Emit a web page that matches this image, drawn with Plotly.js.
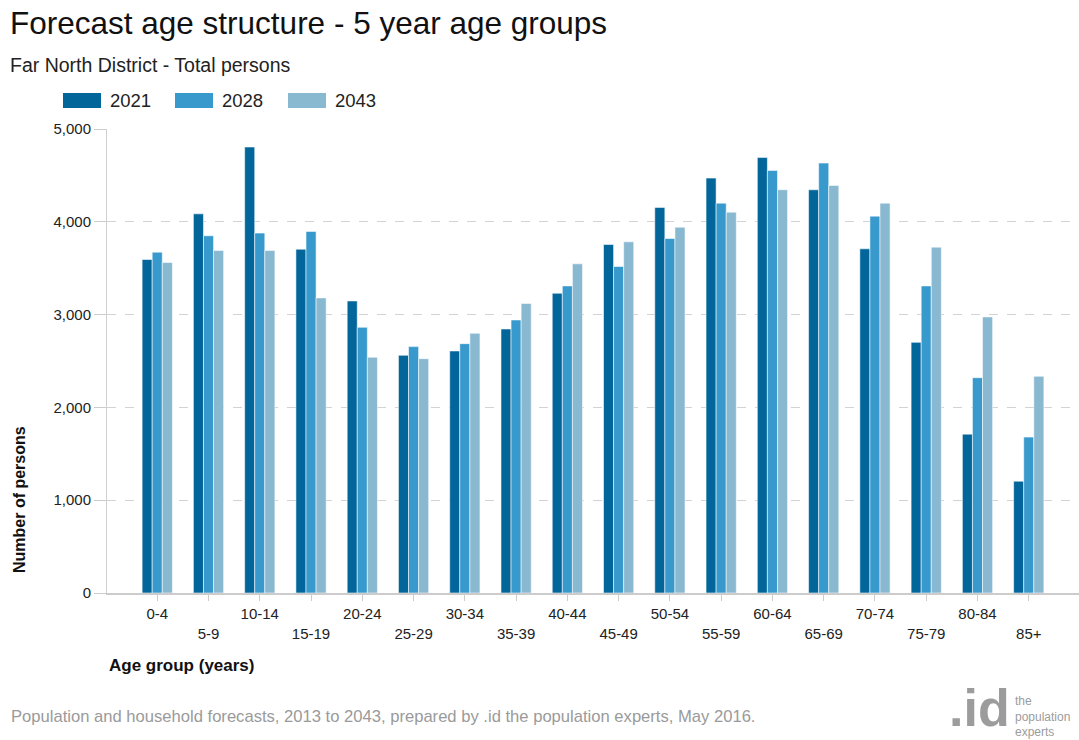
<!DOCTYPE html>
<html>
<head>
<meta charset="utf-8">
<script src="https://cdn.plot.ly/plotly-3.0.1.min.js"></script>
<style>
  html, body { margin: 0; padding: 0; background: #fff; }
  #chart { width: 1079px; height: 740px; }
</style>
</head>
<body>
<div id="chart"></div>
<script>
// ---- Data ----
var categories = ["0-4","5-9","10-14","15-19","20-24","25-29","30-34","35-39","40-44","45-49","50-54","55-59","60-64","65-69","70-74","75-79","80-84","85+"];
var seriesNames = ["2021", "2028", "2043"];
var values2021 = [3594, 4086, 4806, 3705, 3147, 2561, 2608, 2845, 3230, 3755, 4155, 4471, 4694, 4345, 3709, 2701, 1712, 1205];
var values2028 = [3673, 3849, 3878, 3896, 2863, 2655, 2687, 2942, 3309, 3518, 3820, 4201, 4554, 4633, 4061, 3309, 2320, 1680];
var values2043 = [3561, 3691, 3691, 3180, 2540, 2525, 2799, 3119, 3547, 3784, 3942, 4104, 4345, 4392, 4201, 3727, 2975, 2335];
var yTickVals = [0, 1000, 2000, 3000, 4000, 5000];

var colors = ["#02669b", "#3799cc", "#89b8d1"];
var allValues = [values2021, values2028, values2043];

// Alternate rows of tick labels
var tickText = categories.map(function (c, i) { return i % 2 === 0 ? c : "<br>" + c; });

var traces = allValues.map(function (vals, k) {
  return {
    type: "bar",
    name: seriesNames[k],
    x: categories,
    y: vals,
    marker: { color: colors[k], line: { color: "rgba(255,255,255,0.55)", width: 1 } },
    showlegend: false,
    hoverinfo: "x+y+name"
  };
});

var W = 1079, H = 740;
var mL = 107, mR = 0, mT = 129, mB = 147;
var plotW = W - mL - mR, plotH = H - mT - mB;
function px(x) { return (x - mL) / plotW; }
function py(y) { return (H - mB - y) / plotH; }

var font = "Arial, 'Liberation Sans', sans-serif";

// Legend drawn as swatches + labels
var legendX = [63, 175, 288];
var shapes = [];
var annotations = [];
seriesNames.forEach(function (n, k) {
  shapes.push({
    type: "rect", xref: "paper", yref: "paper",
    x0: px(legendX[k]), x1: px(legendX[k] + 38),
    y0: py(108), y1: py(93),
    fillcolor: colors[k], line: { width: 0 }
  });
  annotations.push({
    xref: "paper", yref: "paper", x: px(legendX[k] + 45), y: py(100.5),
    xanchor: "left", yanchor: "middle", showarrow: false,
    text: n, font: { family: font, size: 18.5, color: "#222" }
  });
});

annotations.push(
  { xref: "paper", yref: "paper", x: px(8), y: py(23), xanchor: "left", yanchor: "middle", showarrow: false,
    text: "Forecast age structure - 5 year age groups", font: { family: font, size: 31.5, color: "#111" } },
  { xref: "paper", yref: "paper", x: px(8), y: py(65), xanchor: "left", yanchor: "middle", showarrow: false,
    text: "Far North District - Total persons", font: { family: font, size: 19.5, color: "#222" } },
  { xref: "paper", yref: "paper", x: px(19), y: py(500), xanchor: "center", yanchor: "middle", showarrow: false,
    textangle: -90, text: "<b>Number of persons</b>", font: { family: font, size: 16, color: "#111" } },
  { xref: "paper", yref: "paper", x: px(107), y: py(665), xanchor: "left", yanchor: "middle", showarrow: false,
    text: "<b>Age group (years)</b>", font: { family: font, size: 17, color: "#111" } },
  { xref: "paper", yref: "paper", x: px(9), y: py(716), xanchor: "left", yanchor: "middle", showarrow: false,
    text: "Population and household forecasts, 2013 to 2043, prepared by .id the population experts, May 2016.",
    font: { family: font, size: 16.6, color: "#9a9a9a" } },
  { xref: "paper", yref: "paper", x: px(947), y: py(739), xanchor: "left", yanchor: "bottom", showarrow: false,
    text: "<b>.id</b>", font: { family: "'Liberation Sans Narrow', Arial, sans-serif", size: 52, color: "#9c9c9c" } },
  { xref: "paper", yref: "paper", x: px(1013), y: py(716), xanchor: "left", yanchor: "middle", showarrow: false,
    align: "left",
    text: "the<br>population<br>experts", font: { family: "'Liberation Sans Narrow', Arial, sans-serif", size: 12, color: "#9c9c9c" } }
);

var layout = {
  width: W, height: H,
  margin: { l: mL, r: mR, t: mT, b: mB, pad: 0 },
  paper_bgcolor: "#fff", plot_bgcolor: "#fff",
  barmode: "group",
  bargap: 0.41,
  bargroupgap: 0,
  showlegend: false,
  font: { family: font, size: 15, color: "#333" },
  xaxis: {
    type: "category",
    range: [-0.98, 17.98],
    tickmode: "array",
    tickvals: categories,
    ticktext: tickText,
    ticks: "outside", ticklen: 6, tickcolor: "#cccccc", tickwidth: 1,
    showline: true, linecolor: "#cccccc", linewidth: 2,
    showgrid: false, zeroline: false,
    tickfont: { family: font, size: 15, color: "#222" },
    fixedrange: true
  },
  yaxis: {
    range: [0, 5000],
    tickmode: "array",
    tickvals: yTickVals,
    tickformat: ",d",
    ticks: "outside", ticklen: 12, tickcolor: "#cccccc", tickwidth: 1,
    showline: true, linecolor: "#d0d0d0", linewidth: 1,
    showgrid: true, gridcolor: "#d3d3d3", griddash: "dash", gridwidth: 1,
    zeroline: false,
    tickfont: { family: font, size: 15, color: "#222" },
    fixedrange: true
  },
  shapes: shapes,
  annotations: annotations
};

Plotly.newPlot("chart", traces, layout, { displayModeBar: false, staticPlot: true });
</script>
</body>
</html>
